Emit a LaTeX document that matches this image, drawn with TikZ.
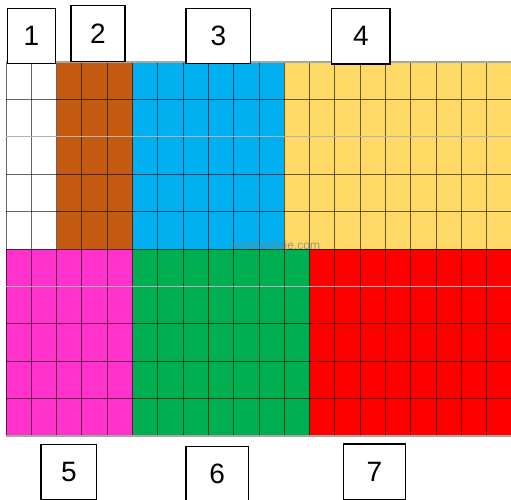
\documentclass[tikz,border=0pt]{standalone}
\usepackage{fontspec}
\setmainfont{Liberation Sans}
\definecolor{cbrown}{HTML}{C55A11}
\definecolor{cblue}{HTML}{00B0F0}
\definecolor{cyellow}{HTML}{FFD966}
\definecolor{cpink}{HTML}{FF33CC}
\definecolor{cgreen}{HTML}{00B050}
\definecolor{cred}{HTML}{FF0000}
\begin{document}
\begin{tikzpicture}[x=1pt,y=-1pt,
  gridline/.style={draw=black,opacity=0.6,line width=1pt},
  labelbox/.style={draw=black,fill=white,line width=1.2pt,inner sep=0pt,
    font=\fontsize{28}{28}\selectfont}]
\useasboundingbox (0,0) rectangle (511,500);
\fill[white] (0,0) rectangle (511,500);
\def\cw{25.3}
\def\ch{37.4}
\begin{scope}
\clip (0,0) rectangle (511,500);
% top band
\fill[white]   (6,62) rectangle (6+2*\cw,62+5*\ch);
\fill[cbrown]  (6+2*\cw,62) rectangle (6+5*\cw,62+5*\ch);
\fill[cblue]   (6+5*\cw,62) rectangle (6+11*\cw,62+5*\ch);
\fill[cyellow] (6+11*\cw,62) rectangle (6+20*\cw,62+5*\ch);
% bottom band
\fill[cpink]   (6,62+5*\ch) rectangle (6+5*\cw,62+10*\ch);
\fill[cgreen]  (6+5*\cw,62+5*\ch) rectangle (6+12*\cw,62+10*\ch);
\fill[cred]    (6+12*\cw,62+5*\ch) rectangle (6+20*\cw,62+10*\ch);
% grid
\foreach \i in {0,...,20}
  \draw[gridline] (6+\i*\cw,62) -- (6+\i*\cw,62+10*\ch);
\foreach \j in {1,3,4,5,7,8,9}
  \draw[gridline] (6,62+\j*\ch) -- (6+20*\cw,62+\j*\ch);
\foreach \j in {2,6}
  \draw[draw=gray!60,line width=1.2pt] (6,62+\j*\ch) -- (6+20*\cw,62+\j*\ch);
\draw[draw=gray!70,line width=1.2pt] (6,62) -- (6+20*\cw,62);
\draw[draw=gray!70,line width=1.5pt] (6,62+10*\ch) -- (6+20*\cw,62+10*\ch);
\end{scope}
% watermark
\node[text=gray,opacity=0.75,font=\fontsize{12}{12}\selectfont] (wm) at (276,246) {ensinarhoje.com};
% labels
\node[labelbox,minimum width=48.4pt,minimum height=55pt] (l1) at (31.5,35.8) {1};
\node[labelbox,minimum width=54pt,minimum height=56pt] (l2) at (98,33.7) {2};
\node[labelbox,minimum width=64.7pt,minimum height=55pt] (l3) at (218.3,35.8) {3};
\node[labelbox,minimum width=58.3pt,minimum height=55.7pt] (l4) at (360.8,36.2) {4};
\node[labelbox,minimum width=55.7pt,minimum height=55pt] (l5) at (68.8,471.8) {5};
\node[labelbox,minimum width=62.3pt,minimum height=55pt] (l6) at (217.2,474) {6};
\node[labelbox,minimum width=62.4pt,minimum height=55.3pt] (l7) at (374.5,471.7) {7};
\end{tikzpicture}
\end{document}
